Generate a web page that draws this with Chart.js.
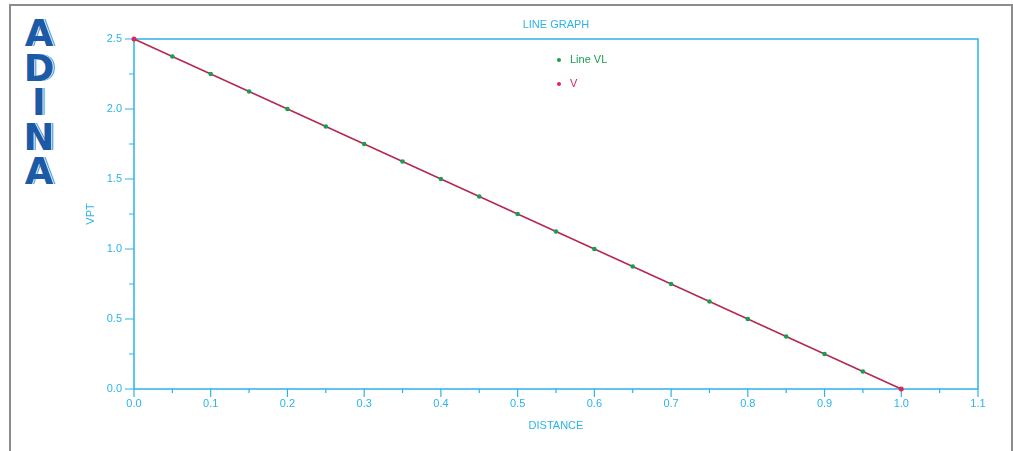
<!DOCTYPE html>
<html>
<head>
<meta charset="utf-8">
<script src="https://cdn.jsdelivr.net/npm/chart.js@4/dist/chart.umd.min.js"></script>
<style>
  html, body { margin: 0; padding: 0; background: #fff; }
  #wrap { position: relative; width: 1013px; height: 451px; overflow: hidden; }
  #frame { position: absolute; left: 9px; top: 4px; width: 1000px; height: 460px;
           border: 2px solid #8c8c8c; border-bottom: none; }
  #logo { position: absolute; left: 22px; top: 17px; width: 34px;
          font-family: "DejaVu Sans", sans-serif; font-weight: bold; font-size: 37px;
          color: #1b5aa6; text-align: center; line-height: 34.5px;
          text-shadow: 1px 0 0 #fff, 2px 0 0 #3d78c0; }
  canvas { position: absolute; left: 0; top: 0; }
</style>
</head>
<body>
<div id="wrap">
  <div id="frame"></div>
  <div id="logo">A<br>D<br>I<br>N<br>A</div>
  <canvas id="chart" width="1013" height="451"></canvas>
</div>
<script>
// --- chart data ---
const distance = [0, 0.05, 0.1, 0.15, 0.2, 0.25, 0.3, 0.35, 0.4, 0.45, 0.5,
                  0.55, 0.6, 0.65, 0.7, 0.75, 0.8, 0.85, 0.9, 0.95, 1.0];
const lineVL = [2.5, 2.375, 2.25, 2.125, 2.0, 1.875, 1.75, 1.625, 1.5, 1.375, 1.25,
                1.125, 1.0, 0.875, 0.75, 0.625, 0.5, 0.375, 0.25, 0.125, 0];
const vDistance = [0, 1.0];
const vValues = [2.5, 0];

const xRange = [0, 1.1];
const yRange = [0, 2.5];
const xMajorStep = 0.1, xMinorStep = 0.05;
const yMajorStep = 0.5, yMinorStep = 0.25;

const titleText = 'LINE GRAPH';
const xTitle = 'DISTANCE';
const yTitle = 'VPT';

const axisColor = '#2bb3ec';
const greenColor = '#1a9d50';
const redColor = '#e0245a';
const lineColor = '#b4284e';
const font = '"Liberation Sans", Arial, sans-serif';

const toPoints = (xs, ys) => xs.map((x, i) => ({ x, y: ys[i] }));

// ticks, frame, titles and legend drawn by hand
const decorPlugin = {
  id: 'decor',
  beforeDatasetsDraw(chart) {
    const { ctx, chartArea: a, scales } = chart;
    const xs = scales.x, ys = scales.y;
    ctx.save();
    ctx.strokeStyle = axisColor;
    ctx.lineWidth = 1.5;
    ctx.strokeRect(a.left, a.top, a.right - a.left, a.bottom - a.top);

    ctx.lineWidth = 1.2;
    ctx.beginPath();
    const nx = Math.round((xRange[1] - xRange[0]) / xMinorStep);
    for (let i = 0; i <= nx; i++) {
      const px = xs.getPixelForValue(xRange[0] + i * xMinorStep);
      const len = i % 2 === 0 ? 8 : 4;
      ctx.moveTo(px, a.bottom);
      ctx.lineTo(px, a.bottom + len);
    }
    const ny = Math.round((yRange[1] - yRange[0]) / yMinorStep);
    for (let i = 0; i <= ny; i++) {
      const py = ys.getPixelForValue(yRange[0] + i * yMinorStep);
      const len = i % 2 === 0 ? 9 : 5;
      ctx.moveTo(a.left, py);
      ctx.lineTo(a.left - len, py);
    }
    ctx.stroke();

    const cx = (a.left + a.right) / 2;
    ctx.fillStyle = axisColor;
    ctx.font = '11px ' + font;
    ctx.textAlign = 'center';
    ctx.textBaseline = 'middle';
    ctx.fillText(titleText, cx, a.top - 14);
    ctx.fillText(xTitle, cx, a.bottom + 37);
    ctx.save();
    ctx.translate(a.left - 43, (a.top + a.bottom) / 2);
    ctx.rotate(-Math.PI / 2);
    ctx.fillText(yTitle, 0, 0);
    ctx.restore();

    // legend
    const items = [
      { label: 'Line VL', color: greenColor },
      { label: 'V', color: redColor }
    ];
    ctx.textAlign = 'left';
    items.forEach((it, i) => {
      const ly = a.top + 21 + i * 24;
      ctx.fillStyle = it.color;
      ctx.beginPath();
      ctx.arc(a.left + 425, ly, 2, 0, Math.PI * 2);
      ctx.fill();
      ctx.fillText(it.label, a.left + 436, ly);
    });
    ctx.restore();
  }
};

const lastIdx = distance.length - 1;

new Chart(document.getElementById('chart').getContext('2d'), {
  type: 'scatter',
  data: {
    datasets: [{
      label: 'Line VL',
      data: toPoints(distance, lineVL),
      showLine: false,
      clip: false,
      pointRadius: (c) => (c.dataIndex === 0 || c.dataIndex === lastIdx) ? 0 : 2.3,
      pointBackgroundColor: greenColor,
      pointBorderWidth: 0,
      order: 0
    }, {
      label: 'V',
      data: toPoints(vDistance, vValues),
      showLine: true,
      clip: false,
      borderColor: lineColor,
      borderWidth: 1.5,
      pointRadius: 2.5,
      pointBackgroundColor: redColor,
      pointBorderWidth: 0,
      order: 1
    }]
  },
  options: {
    responsive: false,
    animation: false,
    layout: { padding: { left: 0, top: 39, right: 35, bottom: 0 } },
    plugins: { legend: { display: false }, tooltip: { enabled: false }, title: { display: false } },
    scales: {
      x: {
        type: 'linear', min: xRange[0], max: xRange[1],
        afterFit: (s) => { s.height = 62; },
        border: { display: false },
        grid: { drawOnChartArea: false, tickLength: 8, tickColor: 'transparent' },
        ticks: {
          stepSize: xMajorStep, padding: 0, color: axisColor,
          font: { family: font, size: 11 },
          maxRotation: 0, autoSkip: false,
          callback: (v) => Number(v).toFixed(1)
        }
      },
      y: {
        type: 'linear', min: yRange[0], max: yRange[1],
        afterFit: (s) => { s.width = 134; },
        border: { display: false },
        grid: { drawOnChartArea: false, tickLength: 9, tickColor: 'transparent' },
        ticks: {
          stepSize: yMajorStep, padding: 3, color: axisColor,
          font: { family: font, size: 11 },
          callback: (v) => Number(v).toFixed(1)
        }
      }
    }
  },
  plugins: [decorPlugin]
});
</script>
</body>
</html>
